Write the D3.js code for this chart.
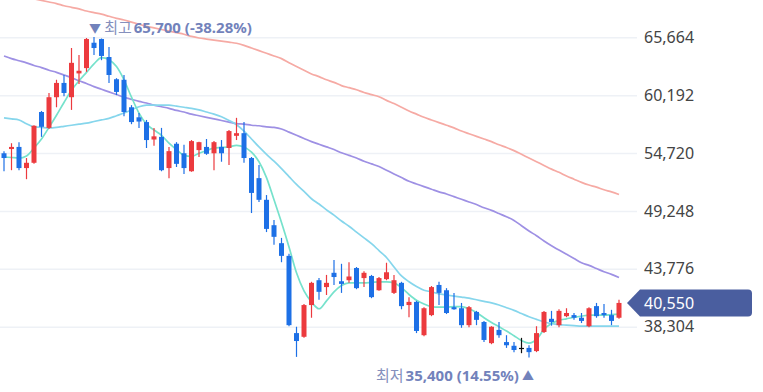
<!DOCTYPE html>
<html>
<head>
<meta charset="utf-8">
<script src="https://cdn.jsdelivr.net/npm/d3@7"></script>
<style>
  body { margin: 0; background: #fff; }
  svg { display: block; }
</style>
</head>
<body>
<script>
// daily candles, oldest first
const opens = [
  54700, 55100, 55300, 53300, 53800, 58600, 57100, 60000, 61350, 60000,
  62250, 62750, 65150, 65500, 63800, 61700, 61650, 59050, 58100, 57650,
  56000, 56250, 53300, 55600, 54700, 53000, 55000, 55300, 54700, 55300,
  55200, 56350, 56600, 54250, 52350, 50300, 47900, 46200, 45000, 37700,
  37350, 40350, 42700, 42050, 43400, 42600, 42700, 43850, 42900, 43100,
  41750, 42800, 41500, 42450, 40350, 40650, 37500, 39400, 42250, 41750,
  40150, 40050, 38450, 39700, 38750, 36750, 38000, 36850, 36500, 36300,
  36300, 36000, 37800, 39050, 38450, 39300, 39400, 39150, 38350, 40250,
  39600, 39400, 39150
];
const highs = [
  54900, 55650, 55750, 54250, 57350, 58700, 60400, 61650, 62100, 64650,
  64000, 65600, 65700, 65550, 64750, 61800, 62100, 59250, 58500, 57850,
  57100, 57100, 55300, 55750, 55500, 55950, 55800, 56050, 55850, 55950,
  56900, 58050, 57650, 54350, 53600, 50750, 48400, 46700, 45200, 38300,
  40450, 42550, 42900, 43200, 44600, 44250, 44400, 43950, 43550, 43200,
  43000, 44350, 43200, 42550, 41100, 40750, 40150, 42150, 42550, 41950,
  41500, 40550, 40250, 39800, 38850, 38350, 38750, 37500, 36850, 37250,
  36550, 38350, 39800, 39800, 39950, 40050, 39600, 39600, 40150, 40550,
  40450, 39900, 40850
];
const lows = [
  53000, 53100, 53100, 52250, 53700, 56250, 57000, 59050, 60100, 58800,
  61250, 62400, 64000, 63500, 61350, 60200, 58200, 57450, 57100, 55200,
  55400, 53000, 52350, 53400, 52750, 52950, 54350, 54550, 53100, 53900,
  53600, 55950, 53800, 49050, 50100, 47250, 46050, 44400, 38350, 35450,
  37250, 39150, 40850, 41300, 42250, 41500, 42450, 41850, 42050, 41000,
  41700, 42700, 41400, 39950, 39200, 37700, 37400, 39300, 40350, 39500,
  39900, 38200, 38250, 38450, 36850, 36650, 37250, 36300, 35900, 35800,
  35400, 35900, 37700, 38400, 38250, 39200, 38950, 38650, 38250, 39150,
  39150, 38450, 39050
];
const closes = [
  54250, 55300, 53300, 53800, 57300, 57200, 60000, 61350, 60400, 63250,
  62500, 65500, 64650, 63900, 62100, 60500, 58600, 57650, 57700, 55950,
  56300, 53100, 54900, 53700, 53300, 55850, 55750, 54650, 55750, 54700,
  56800, 56600, 54250, 50950, 50300, 47550, 46800, 45000, 38450, 36950,
  40350, 42450, 41600, 42450, 43000, 42350, 43050, 41950, 43400, 41100,
  42900, 43450, 42700, 40250, 40650, 37900, 40050, 42050, 41500, 39600,
  39950, 38450, 40150, 38950, 37050, 38300, 37500, 36550, 36100, 36300,
  35900, 37700, 39700, 38750, 39800, 39600, 39150, 38850, 40050, 39300,
  39400, 38850, 40550
];

// moving averages, one value per candle
const ma5 = [
  54350, 54300, 54250, 54450, 55200, 56050, 57150, 58300, 59500, 60650,
  61550, 62350, 63150, 63750, 63550, 62900, 61650, 60000, 58500, 57450,
  56900, 56400, 55650, 55050, 54500, 54400, 54700, 54950, 55200, 55250,
  55300, 55450, 55300, 54800, 53900, 52400, 50300, 48150, 45850, 43400,
  41700, 40650, 40000, 40750, 41600, 42200, 42450, 42450, 42450, 42500,
  42550, 42550, 42450, 42000, 41350, 40800, 40450, 40200, 40150, 40150,
  40200, 40200, 40000, 39650, 39150, 38700, 38300, 37900, 37450, 37000,
  36750, 37100, 38050, 38600, 38900, 39050, 39200, 39300, 39400, 39400,
  39400, 39450, 39500
];
const ma20 = [
  58050, 57950, 57850, 57500, 57200, 57150, 57100, 57150, 57250, 57350,
  57450, 57550, 57700, 57850, 58000, 58250, 58500, 58800, 59100, 59250,
  59250, 59250, 59250, 59150, 59050, 58950, 58800, 58600, 58400, 58150,
  57800, 57400, 56800, 56050, 55300, 54600, 53950, 53250, 52500, 51750,
  51100, 50400, 49900, 49350, 48850, 48300, 47800, 47250, 46700, 46150,
  45500, 44850, 43950, 43100, 42550, 42100, 41750, 41600, 41400, 41300,
  41200, 41100, 41000, 40850, 40700, 40550, 40350, 40100, 39850, 39550,
  39250, 39000, 38750, 38600, 38500, 38450, 38400, 38350, 38350, 38350,
  38350, 38350, 38350
];
const ma60 = [
  63900, 63650, 63450, 63250, 63000, 62800, 62550, 62350, 62100, 61850,
  61550, 61300, 61000, 60750, 60500, 60250, 60000, 59800, 59600, 59450,
  59250, 59100, 58950, 58750, 58600, 58400, 58250, 58100, 57950, 57800,
  57650, 57500, 57450, 57350, 57300, 57200, 57150, 57000, 56700, 56400,
  56100, 55800, 55550, 55300, 55050, 54750, 54500, 54250, 53950, 53700,
  53450, 53100, 52750, 52400, 52050, 51800, 51550, 51300, 51050, 50850,
  50600, 50350, 50100, 49850, 49550, 49300, 49000, 48700, 48350, 47850,
  47350, 46900, 46400, 45950, 45550, 45150, 44750, 44350, 44100, 43800,
  43500, 43250, 42950
];
const ma120 = [
  69950, 69800, 69650, 69450, 69300, 69150, 69000, 68850, 68650, 68500,
  68350, 68150, 68000, 67850, 67650, 67450, 67300, 67100, 66900, 66700,
  66550, 66400, 66250, 66100, 65950, 65750, 65600, 65500, 65400, 65300,
  65200, 65100, 64900, 64650, 64400, 64150, 63900, 63650, 63250, 62900,
  62550, 62200, 61950, 61650, 61400, 61100, 60900, 60700, 60450, 60250,
  60050, 59700, 59400, 59050, 58700, 58400, 58100, 57850, 57600, 57350,
  57100, 56800, 56550, 56300, 56050, 55800, 55500, 55250, 54950, 54600,
  54250, 53900, 53550, 53200, 52900, 52550, 52250, 51950, 51700, 51500,
  51250, 51050, 50800
];

const yTicks = [65664, 60192, 54720, 49248, 43776, 38304];
const lastPrice = 40550;
const highIdx = 12, highText = "65,700 (-38.28%)";
const lowIdx = 70, lowText = "35,400 (14.55%)";

const W = 763, H = 392;
const plotRight = 637;

const svg = d3.select("body").append("svg")
  .attr("width", W)
  .attr("height", H)
  .style("font-family", "'Noto Sans', 'Noto Sans CJK KR', sans-serif");

const x = d3.scaleLinear().domain([0, closes.length - 1]).range([4, 619]);
const y = d3.scaleLinear().domain([38304, 65664]).range([326.7, 37.3]);

// grid
const grid = svg.append("g")
  .attr("transform", `translate(${plotRight},0)`)
  .call(d3.axisLeft(y).tickValues(yTicks).tickSize(plotRight).tickFormat(""));
grid.select(".domain").remove();
grid.selectAll("line").attr("stroke", "#eef1f6").attr("stroke-width", 1.5);

// price axis labels
const axis = svg.append("g")
  .attr("transform", `translate(${plotRight},0)`)
  .call(d3.axisRight(y).tickValues(yTicks).tickSize(0).tickPadding(7).tickFormat(d3.format(",")));
axis.select(".domain").remove();
axis.selectAll("text")
  .attr("font-size", 16)
  .attr("fill", "#444")
  .attr("font-family", "'Noto Sans', sans-serif");

// moving average lines
svg.append("clipPath").attr("id", "plot")
  .append("rect").attr("x", 0).attr("y", 0).attr("width", plotRight).attr("height", H);

const mas = [
  { values: ma120, color: "#f6aaa4" },
  { values: ma60, color: "#9e90e4" },
  { values: ma20, color: "#86d6ec" },
  { values: ma5, color: "#76e2cc" }
];
const line = d3.line()
  .x((d, i) => x(i))
  .y(d => y(d))
  .curve(d3.curveMonotoneX);

svg.append("g").attr("clip-path", "url(#plot)")
  .selectAll("path")
  .data(mas)
  .join("path")
  .attr("fill", "none")
  .attr("stroke", d => d.color)
  .attr("stroke-width", 1.7)
  .attr("d", d => line(d.values));

// candles
const candles = d3.range(closes.length).map(i => ({
  i, o: opens[i], h: highs[i], l: lows[i], c: closes[i]
}));
const colorOf = d => d.c > d.o ? "#ec3a3e" : (d.c < d.o ? "#1d70e6" : "#111");
const bw = 5;

const cg = svg.append("g").selectAll("g").data(candles).join("g");
cg.append("line")
  .attr("x1", d => x(d.i)).attr("x2", d => x(d.i))
  .attr("y1", d => y(d.h)).attr("y2", d => y(d.l))
  .attr("stroke", colorOf)
  .attr("stroke-width", 1.2);
cg.append("rect")
  .attr("x", d => x(d.i) - bw / 2)
  .attr("width", bw)
  .attr("y", d => y(Math.max(d.o, d.c)))
  .attr("height", d => Math.max(1.2, Math.abs(y(d.o) - y(d.c))))
  .attr("fill", colorOf);

// high / low annotations
const hiLabel = svg.append("text")
  .attr("x", x(highIdx) - 5)
  .attr("y", y(highs[highIdx]) - 4)
  .attr("font-size", 15)
  .attr("fill", "#7282bb");
hiLabel.append("tspan").attr("font-size", 12).text("▼ ");
hiLabel.append("tspan").attr("fill", "#8590bd").attr("font-family", "'Noto Sans CJK KR', sans-serif").text("최고");
hiLabel.append("tspan").attr("dx", 2).attr("font-weight", "bold").text(highText);

const loLabel = svg.append("text")
  .attr("x", x(lowIdx) + 5)
  .attr("y", y(lows[lowIdx]) + 24)
  .attr("text-anchor", "end")
  .attr("font-size", 15)
  .attr("fill", "#7282bb");
loLabel.append("tspan").attr("fill", "#8590bd").attr("font-family", "'Noto Sans CJK KR', sans-serif").text("최저");
loLabel.append("tspan").attr("dx", 2).attr("font-weight", "bold").text(lowText);
loLabel.append("tspan").attr("font-size", 12).text(" ▲");

// current price tag
const ly = y(lastPrice);
const tag = d3.path();
tag.moveTo(627, ly);
tag.lineTo(640, ly - 13.5);
tag.lineTo(748, ly - 13.5);
tag.quadraticCurveTo(752, ly - 13.5, 752, ly - 9.5);
tag.lineTo(752, ly + 9.5);
tag.quadraticCurveTo(752, ly + 13.5, 748, ly + 13.5);
tag.lineTo(640, ly + 13.5);
tag.closePath();
svg.append("path").attr("d", tag.toString()).attr("fill", "#4a5e9f");
svg.append("text")
  .attr("x", 644)
  .attr("y", ly)
  .attr("dy", "0.35em")
  .attr("font-size", 16)
  .attr("fill", "#fff")
  .text(d3.format(",")(lastPrice));
</script>
</body>
</html>
